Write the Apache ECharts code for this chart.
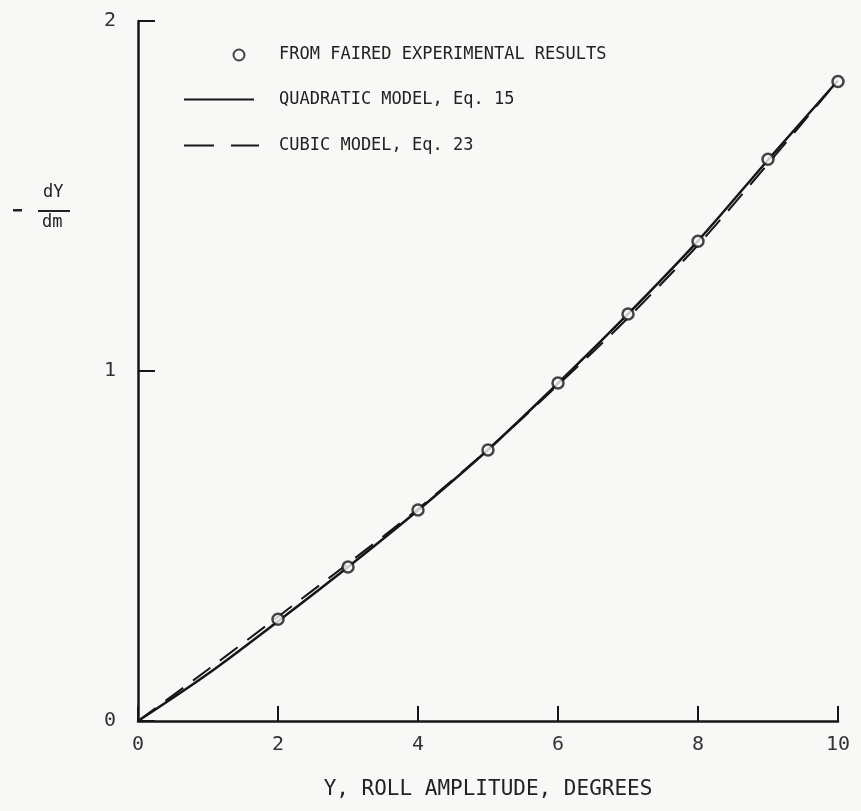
<!DOCTYPE html>
<html>
<head>
<meta charset="utf-8">
<script src="https://cdn.jsdelivr.net/npm/echarts@6/dist/echarts.min.js"></script>
<style>html,body{margin:0;padding:0;background:#f8f8f6;}#c{width:861px;height:811px;}</style>
</head>
<body>
<div id="c"></div>
<script>
const xTicks = [0, 2, 4, 6, 8, 10];
const yTicks = [0, 1, 2];
const expX = [2, 3, 4, 5, 6, 7, 8, 9, 10];
const expY = [0.291, 0.44, 0.603, 0.774, 0.966, 1.163, 1.371, 1.605, 1.827];
const curveX = [0, 1, 2, 3, 4, 5, 6, 7, 8, 9, 10];
const quadY = [0, 0.135, 0.285, 0.44, 0.602, 0.775, 0.965, 1.163, 1.372, 1.603, 1.83];
const cubicY = [0, 0.147, 0.298, 0.45, 0.606, 0.776, 0.96, 1.152, 1.36, 1.592, 1.83];
const names = ['FROM FAIRED EXPERIMENTAL RESULTS', 'QUADRATIC MODEL, Eq. 15', 'CUBIC MODEL, Eq. 23'];
const xTitle = 'Y, ROLL AMPLITUDE, DEGREES';

const ink = '#161616';
const FONT = 'DejaVu Sans Mono';
const chart = echarts.init(document.getElementById('c'));
const pair = (xs, ys) => xs.map((x, i) => [x, ys[i]]);
const legTxt = (pad) => ({fontFamily: FONT, fontSize: 17, color: '#222', padding: [0, 0, 0, pad]});

chart.setOption({
  backgroundColor: '#f8f8f6',
  animation: false,
  grid: {left: 138, right: 23, top: 21, bottom: 90, containLabel: false},
  xAxis: {
    type: 'value', min: 0, max: 10, interval: 2,
    name: xTitle, nameLocation: 'middle', nameGap: 58,
    nameTextStyle: {fontFamily: FONT, fontSize: 21, color: '#222'},
    axisLine: {lineStyle: {color: ink, width: 2.5}},
    axisTick: {inside: true, length: 15, lineStyle: {color: ink, width: 2}},
    axisLabel: {margin: 14, fontFamily: FONT, fontSize: 20, color: '#333',
      formatter: v => xTicks.includes(v) ? String(v) : ''},
    splitLine: {show: false}
  },
  yAxis: {
    type: 'value', min: 0, max: 2, interval: 1,
    axisLine: {show: true, lineStyle: {color: ink, width: 2.5}},
    axisTick: {show: true, inside: true, length: 17, lineStyle: {color: ink, width: 2}},
    axisLabel: {margin: 22, fontFamily: FONT, fontSize: 20, color: '#333',
      formatter: v => yTicks.includes(v) ? String(v) : ''},
    splitLine: {show: false}
  },
  legend: [
    {data: [names[0]], orient: 'vertical', left: 232.5, top: 46.5, padding: 0,
     itemWidth: 11, itemHeight: 11, textStyle: legTxt(29.5)},
    {data: [names[1]], orient: 'vertical', left: 183, top: 91, padding: 0,
     itemWidth: 70, itemHeight: 14, textStyle: legTxt(20),
     itemStyle: {opacity: 0}, lineStyle: {width: 2, color: ink}},
    {data: [names[2]], orient: 'vertical', left: 183, top: 137, padding: 0,
     itemWidth: 75, itemHeight: 14, textStyle: legTxt(15),
     itemStyle: {opacity: 0}, lineStyle: {width: 2, color: ink, type: [30, 17]}}
  ],
  graphic: [
    {type: 'rect', shape: {x: 13, y: 209, width: 9, height: 2.5}, style: {fill: '#222'}},
    {type: 'text', left: 43, top: 184, style: {text: 'dY', fontFamily: FONT, fontSize: 17, fill: '#222'}},
    {type: 'line', shape: {x1: 38, y1: 211, x2: 70, y2: 211}, style: {stroke: '#222', lineWidth: 2}},
    {type: 'text', left: 42, top: 214, style: {text: 'dm', fontFamily: FONT, fontSize: 17, fill: '#222'}}
  ],
  series: [
    {name: names[0], type: 'scatter', data: pair(expX, expY), symbol: 'circle', symbolSize: 11, z: 5,
     itemStyle: {color: '#f8f8f6', borderColor: ink, borderWidth: 2.5}},
    {name: names[1], type: 'line', data: pair(curveX, quadY), smooth: 0.3, symbol: 'none', z: 3,
     itemStyle: {color: ink}, lineStyle: {color: ink, width: 2.5}},
    {name: names[2], type: 'line', data: pair(curveX, cubicY), smooth: 0.3, symbol: 'none', z: 2,
     itemStyle: {color: ink}, lineStyle: {color: ink, width: 2, type: [22, 12]}}
  ]
});
</script>
</body>
</html>
